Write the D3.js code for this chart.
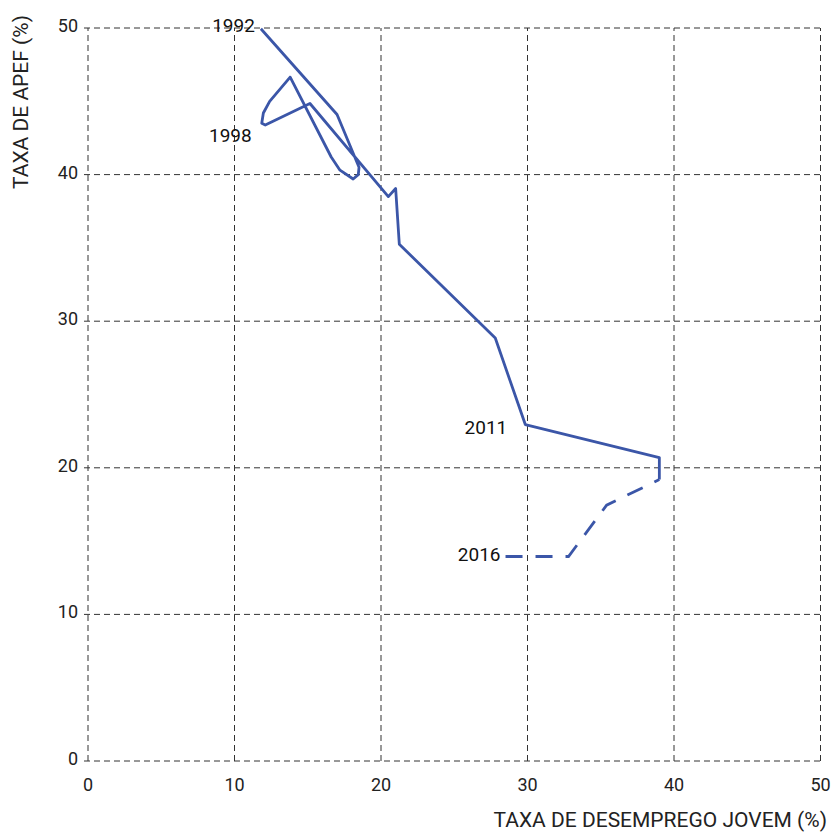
<!DOCTYPE html>
<html>
<head>
<meta charset="utf-8">
<script src="https://cdn.jsdelivr.net/npm/d3@7"></script>
<style>
  body { margin: 0; background: #fff; }
  svg { display: block; font-family: Roboto, "DejaVu Sans", sans-serif; }
</style>
</head>
<body>
<svg id="chart"></svg>
<script>
// youth unemployment rate (x) vs APEF rate (y)
var unemployment = [11.8, 17.0, 18.5, 18.45, 18.1, 17.2, 16.6, 13.8, 12.4, 11.97, 11.86, 12.1, 15.15, 20.5, 21.0, 21.25, 27.8, 29.85, 39.0, 39.0, 35.4, 32.8, 28.5];
var apef         = [49.95, 44.1, 40.5, 40.0, 39.7, 40.3, 41.2, 46.65, 45.0, 44.2, 43.5, 43.38, 44.85, 38.5, 39.05, 35.25, 28.85, 22.95, 20.7, 19.2, 17.45, 13.95, 13.95];
var pointLabels  = ["1992", "", "", "", "", "", "", "", "", "", "1998", "", "", "", "", "", "", "2011", "", "", "", "", "2016"];
var dashedFrom = 19; // last segments drawn dashed

var xTicks = [0, 10, 20, 30, 40, 50];
var yTicks = [0, 10, 20, 30, 40, 50];
var xTitle = "TAXA DE DESEMPREGO JOVEM (%)";
var yTitle = "TAXA DE APEF (%)";

var W = 832, H = 832;
var svg = d3.select("#chart").attr("width", W).attr("height", H);

var x = d3.scaleLinear().domain([0, 50]).range([88, 820.5]);
var y = d3.scaleLinear().domain([0, 50]).range([761, 28]);

var gridColor = "#333";

// grid
svg.append("g").selectAll("line").data(xTicks).join("line")
  .attr("x1", d => x(d)).attr("x2", d => x(d))
  .attr("y1", y(0)).attr("y2", y(50))
  .attr("stroke", gridColor).attr("stroke-width", 1)
  .attr("stroke-dasharray", "6,4");

svg.append("g").selectAll("line").data(yTicks).join("line")
  .attr("y1", d => y(d)).attr("y2", d => y(d))
  .attr("x1", x(0) - 4).attr("x2", x(50))
  .attr("stroke", gridColor).attr("stroke-width", 1)
  .attr("stroke-dasharray", "6,4");

// tick labels
svg.append("g").selectAll("text").data(xTicks).join("text")
  .attr("x", d => x(d)).attr("y", 791)
  .attr("text-anchor", "middle")
  .attr("font-size", 18).attr("fill", "#222")
  .text(d => d);

svg.append("g").selectAll("text").data(yTicks).join("text")
  .attr("x", 78).attr("y", d => y(d) + 4)
  .attr("text-anchor", "end")
  .attr("font-size", 18).attr("fill", "#222")
  .text(d => d);

// axis titles
svg.append("text")
  .attr("x", 827).attr("y", 827)
  .attr("text-anchor", "end")
  .attr("font-size", 21).attr("fill", "#222")
  .text(xTitle);

svg.append("text")
  .attr("transform", "translate(28,15) rotate(-90)")
  .attr("text-anchor", "end")
  .attr("font-size", 21).attr("fill", "#222")
  .text(yTitle);

// series
var pts = unemployment.map((d, i) => ({x: d, y: apef[i], label: pointLabels[i]}));
var line = d3.line().x(d => x(d.x)).y(d => y(d.y));
var blue = "#3b56a8";

svg.append("path")
  .attr("d", line(pts.slice(0, dashedFrom + 1)))
  .attr("fill", "none").attr("stroke", blue)
  .attr("stroke-width", 2.8).attr("stroke-linejoin", "round");

svg.append("path")
  .attr("d", line(pts.slice(dashedFrom).reverse()))
  .attr("fill", "none").attr("stroke", blue)
  .attr("stroke-width", 2.8)
  .attr("stroke-dasharray", "17,13");

// year labels
var labelOffset = {"1992": [-6, 3], "1998": [-10, 19], "2011": [-18, 9], "2016": [-5, 5]};
svg.append("g").selectAll("text").data(pts.filter(d => d.label)).join("text")
  .attr("x", d => x(d.x) + labelOffset[d.label][0])
  .attr("y", d => y(d.y) + labelOffset[d.label][1])
  .attr("text-anchor", "end")
  .attr("font-size", 19).attr("fill", "#111")
  .text(d => d.label);
</script>
</body>
</html>
